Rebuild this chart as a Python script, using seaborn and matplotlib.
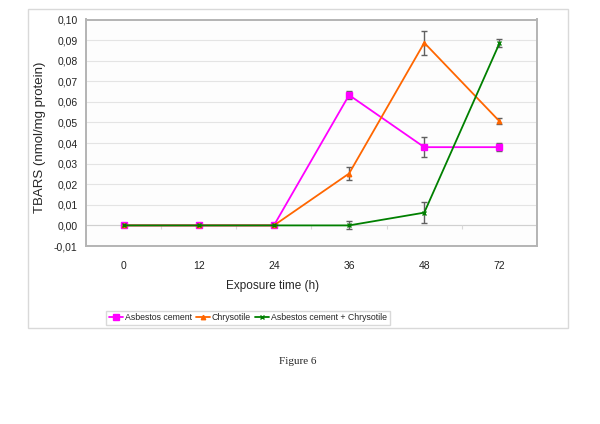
import numpy as np
import pandas as pd
import matplotlib
matplotlib.use("Agg")
import matplotlib.pyplot as plt
import seaborn as sns
from matplotlib.patches import Rectangle
from matplotlib.lines import Line2D

# exposure time categories
hours = ["0", "12", "24", "36", "48", "72"]

series_names = ["Asbestos cement", "Chrysotile", "Asbestos cement + Chrysotile"]

asbestos_cement = [0.0, 0.0, 0.0, 0.0633, 0.038, 0.038]
asbestos_cement_err = [0.0, 0.0, 0.0, 0.0019, 0.005, 0.0019]

chrysotile = [0.0, 0.0, 0.0, 0.0252, 0.0887, 0.0506]
chrysotile_err = [0.0, 0.0, 0.0, 0.003, 0.0059, 0.0015]

combined = [0.0, 0.0, 0.0, 0.0, 0.0062, 0.0884]
combined_err = [0.0, 0.0, 0.0, 0.0019, 0.005, 0.0019]

colors = {"Asbestos cement": "#ff00ff",
          "Chrysotile": "#ff6600",
          "Asbestos cement + Chrysotile": "#008000"}
markers = {"Asbestos cement": "s",
           "Chrysotile": "^",
           "Asbestos cement + Chrysotile": "x"}
msizes = {"Asbestos cement": 4.2, "Chrysotile": 3.2, "Asbestos cement + Chrysotile": 3.2}


def build_frame():
    rows = []
    for name, vals, errs in zip(series_names,
                                [asbestos_cement, chrysotile, combined],
                                [asbestos_cement_err, chrysotile_err, combined_err]):
        for i, (v, e) in enumerate(zip(vals, errs)):
            rows.append({"pos": i, "hour": hours[i], "series": name, "value": v, "err": e})
    return pd.DataFrame(rows)


df = build_frame()

sns.set_style("white")
plt.rcParams["font.family"] = ["Liberation Sans", "DejaVu Sans"]

fig = plt.figure(figsize=(6, 4.24), dpi=100)
fig.patch.set_facecolor("white")

# outer chart border
fig.patches.append(Rectangle((28 / 600, 1 - 328 / 424), 540 / 600, 319 / 424,
                             transform=fig.transFigure, fill=False,
                             edgecolor="#d9d9d9", linewidth=1.0))

ax = fig.add_axes([86 / 600, 1 - 246 / 424, 451 / 600, 226.5 / 424])
ax.set_facecolor("#fdfdfd")

# error bars first so lines sit on top
for name in series_names:
    d = df[df["series"] == name]
    d = d[d["err"] > 0]
    ax.errorbar(d["pos"], d["value"], yerr=d["err"], fmt="none",
                ecolor="#606060", elinewidth=1.0, capsize=2.0, capthick=1.0, zorder=3)

for name in series_names:
    d = df[df["series"] == name]
    sns.lineplot(data=d, x="pos", y="value", ax=ax, color=colors[name],
                 marker=markers[name], markersize=msizes[name],
                 markeredgecolor=colors[name], markeredgewidth=1.0,
                 linewidth=1.3, legend=False, zorder=4)

ax.set_xlim(-0.5, len(hours) - 0.5)
ax.set_ylim(-0.01, 0.10)
yt = np.round(np.arange(-0.01, 0.1001, 0.01), 2)
ax.set_yticks(yt)
ax.set_yticklabels([f"{v:.2f}".replace(".", ",") for v in yt], fontsize=7.5)
ax.set_xticks(range(len(hours)))
ax.set_xticklabels(hours, fontsize=7.5)
ax.tick_params(axis="both", length=0, colors="#222222")
ax.tick_params(axis="y", pad=6)
ax.tick_params(axis="x", pad=11)
ax.set_xlabel("")
ax.set_ylabel("")
ax.grid(axis="y", color="#e4e4e4", linewidth=0.8)
ax.set_axisbelow(True)
for s in ax.spines.values():
    s.set_color("#b4b4b4")
    s.set_linewidth(1.4)

# category axis crossing at zero
ax.axhline(0, color="#d0d0d0", linewidth=0.8, zorder=1)
ax.vlines(np.arange(0.5, len(hours) - 1), -0.0016, 0, color="#d8d8d8", linewidth=0.8, zorder=1)

fig.text(273 / 600, 1 - 286 / 424, "Exposure time (h)", fontsize=8.5,
         ha="center", va="center")
fig.text(40 / 600, 1 - 137 / 424, "TBARS (nmol/mg protein)", fontsize=9.5,
         ha="center", va="center", rotation=90)

handles = [Line2D([0], [0], color=colors[n], marker=markers[n], markersize=msizes[n],
                  linewidth=1.3, markeredgewidth=1.0) for n in series_names]
fig.legend(handles, series_names, loc="center", bbox_to_anchor=(248 / 600, 1 - 318 / 424),
           ncol=3, fontsize=6.3, frameon=True, fancybox=False, edgecolor="#d0d0d0",
           handlelength=1.6, handletextpad=0.2, columnspacing=0.5,
           borderpad=0.3, borderaxespad=0)

fig.text(298 / 600, 1 - 361 / 424, "Figure 6", fontsize=8,
         family=["Liberation Serif", "DejaVu Serif"], ha="center", va="center")

fig.savefig("out.png", dpi=100, facecolor="white")
